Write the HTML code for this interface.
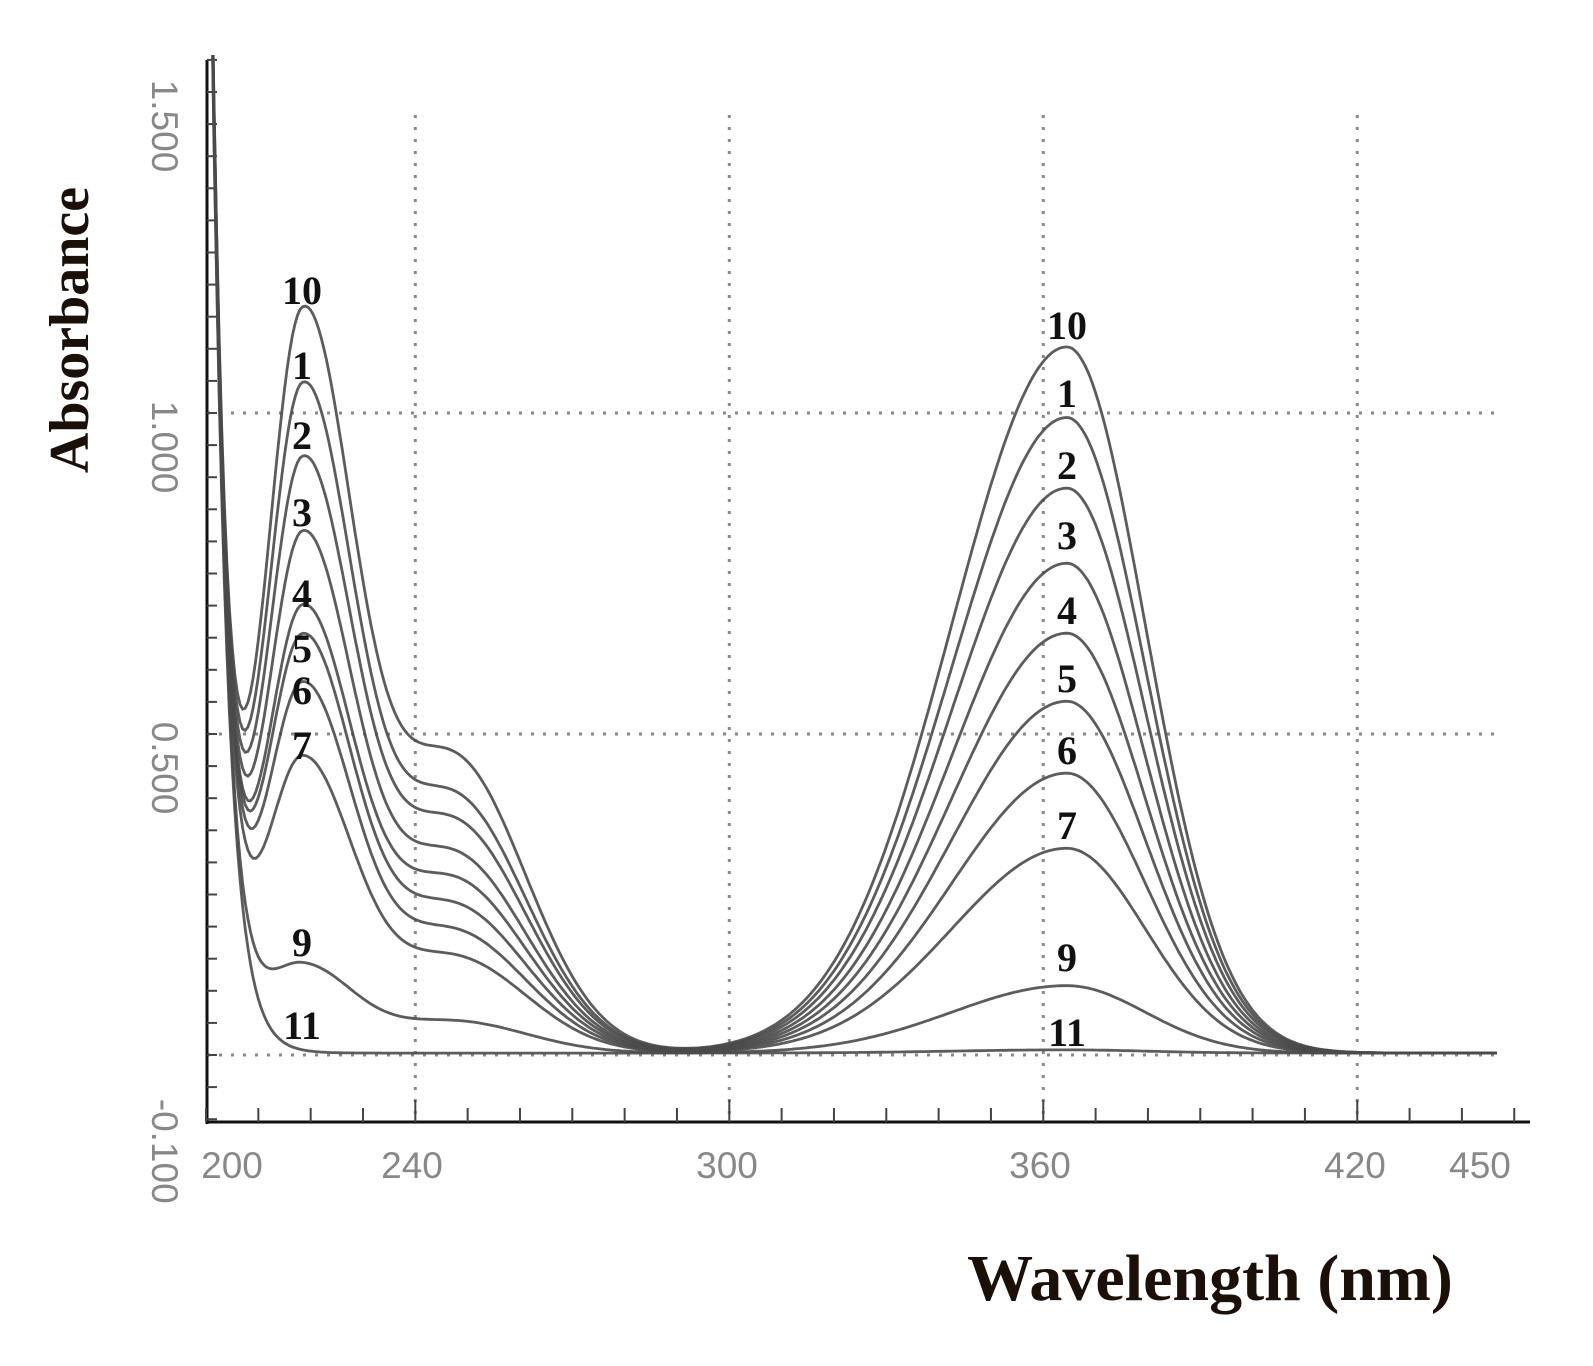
<!DOCTYPE html>
<html><head><meta charset="utf-8"><style>
html,body{margin:0;padding:0;background:#fff;}
svg{display:block;}
</style></head><body>
<svg id="chart" width="1593" height="1366" viewBox="0 0 1593 1366" xmlns="http://www.w3.org/2000/svg">
<g id="grid"></g>
<g id="axes"></g>
<g id="series"></g>
<g id="labels"></g>
<text transform="translate(88,330) rotate(-90)" text-anchor="middle" font-family="Liberation Serif, serif" font-weight="bold" font-size="56" fill="#1a1008">Absorbance</text>
<text x="1210" y="1300" text-anchor="middle" font-family="Liberation Serif, serif" font-weight="bold" font-size="66" fill="#1a1008">Wavelength (nm)</text>
</svg>
<script>
const seriesNames = ["10","1","2","3","4","5","6","7","9","11"];
const peak1 = [1.10, 0.99, 0.88, 0.77, 0.66, 0.62, 0.55, 0.44, 0.13, 0.0];
const shoulder = [0.46, 0.40, 0.36, 0.31, 0.27, 0.23, 0.19, 0.15, 0.05, 0.0];
const peak2 = [1.10, 0.99, 0.88, 0.763, 0.654, 0.548, 0.436, 0.319, 0.105, 0.005];
const xTicks = [200, 240, 300, 360, 420, 450];
const xTickLabelPos = [232, 412, 727, 1040, 1355, 1480];
const yTicks = [1.5, 1.0, 0.5, -0.1];
const yTickLabels = ["1.500", "1.000", "0.500", "-0.100"];
const p1Labels = [290, 365, 435, 512, 593, 648, 690, 745, 942, 1025];
const p2Labels = [325, 393, 465, 535, 610, 678, 750, 825, 957, 1032];

const NS = "http://www.w3.org/2000/svg";
const xS = l => 206 + (l - 200) * 5.233;
const yS = a => 1055 - a * 642;
function mk(tag, attrs, parent){const e=document.createElementNS(NS,tag);for(const k in attrs)e.setAttribute(k,attrs[k]);parent.appendChild(e);return e;}
const grid=document.getElementById('grid'), axes=document.getElementById('axes'), ser=document.getElementById('series'), lab=document.getElementById('labels');

[240,300,360,420].forEach(v=>{
  const l=mk('line',{x1:xS(v),x2:xS(v),y1:115,y2:1122,stroke:'#888','stroke-width':3,'stroke-dasharray':'3,9'},grid);
  
  
});
[1.0,0.5,0].forEach(v=>{
  const l=mk('line',{x1:207,x2:1495,y1:yS(v),y2:yS(v),stroke:'#888','stroke-width':3,'stroke-dasharray':'3,9'},grid);
  
  
});
const ya=mk('line',{x1:207,x2:207,y1:60,y2:1124,stroke:'#111','stroke-width':3},axes);


const xa=mk('line',{x1:206,x2:1530,y1:1122,y2:1122,stroke:'#111','stroke-width':3},axes);


for(let v=200; v<=450; v+=10){
  const big = (v%60===0)||v===420;
  const t=mk('line',{x1:xS(v),x2:xS(v),y1:1122,y2:big?1100:1108,stroke:'#444','stroke-width':2},axes);
  
  
}
for(let a=-0.1; a<=1.56; a+=0.05){
  const t=mk('line',{x1:207,x2:217,y1:yS(a),y2:yS(a),stroke:'#444','stroke-width':2},axes);
  
  
}
xTicks.forEach((v,i)=>{
  const t=mk('text',{x:xTickLabelPos[i],y:1178,'text-anchor':'middle','font-family':'Liberation Sans, sans-serif','font-size':37,fill:'#888'},axes);
  t.textContent=v;
  
  
});
yTicks.forEach((v,i)=>{
  const cy = yS(v)+ (v===-0.1?32:34);
  const t=mk('text',{transform:`translate(152,${cy}) rotate(90)`,'text-anchor':'middle','font-family':'Liberation Sans, sans-serif','font-size':37,fill:'#888'},axes);
  t.textContent=yTickLabels[i];
  
  
});
const clip=mk('clipPath',{id:'plotclip'},ser);
mk('rect',{x:205,y:55,width:1292,height:1070},clip);
ser.setAttribute('clip-path','url(#plotclip)');
const G=(l,c,s)=>Math.exp(-((l-c)*(l-c))/(2*s*s));
seriesNames.forEach((n,i)=>{
  let d='';
  for(let l=200.5; l<=448; l+=0.5){
    let a = 2.0*Math.exp(-(l-200.5)/3)
      + peak1[i]*(l<218.3?G(l,218.3,7):G(l,218.3,9.5))
      + shoulder[i]*G(l,247,14)
      + peak2[i]*(l<364.5?G(l,364.5,22):G(l,364.5,15)) + 0.003;
    d += (d?'L':'M') + xS(l).toFixed(1) + ',' + yS(a).toFixed(1);
  }
  const p=mk('path',{d:d,fill:'none',stroke:'#4a4a4a','stroke-width':2.8,'stroke-opacity':0.9},ser);
  
  
  const t1=mk('text',{x:302,y:p1Labels[i]+14,'text-anchor':'middle','font-family':'Liberation Serif, serif','font-weight':'bold','font-size':40,fill:'#111'},lab);
  t1.textContent=n;
  
  
  const t2=mk('text',{x:1067,y:p2Labels[i]+14,'text-anchor':'middle','font-family':'Liberation Serif, serif','font-weight':'bold','font-size':40,fill:'#111'},lab);
  t2.textContent=n;
  
  
});
</script>
</body></html>
